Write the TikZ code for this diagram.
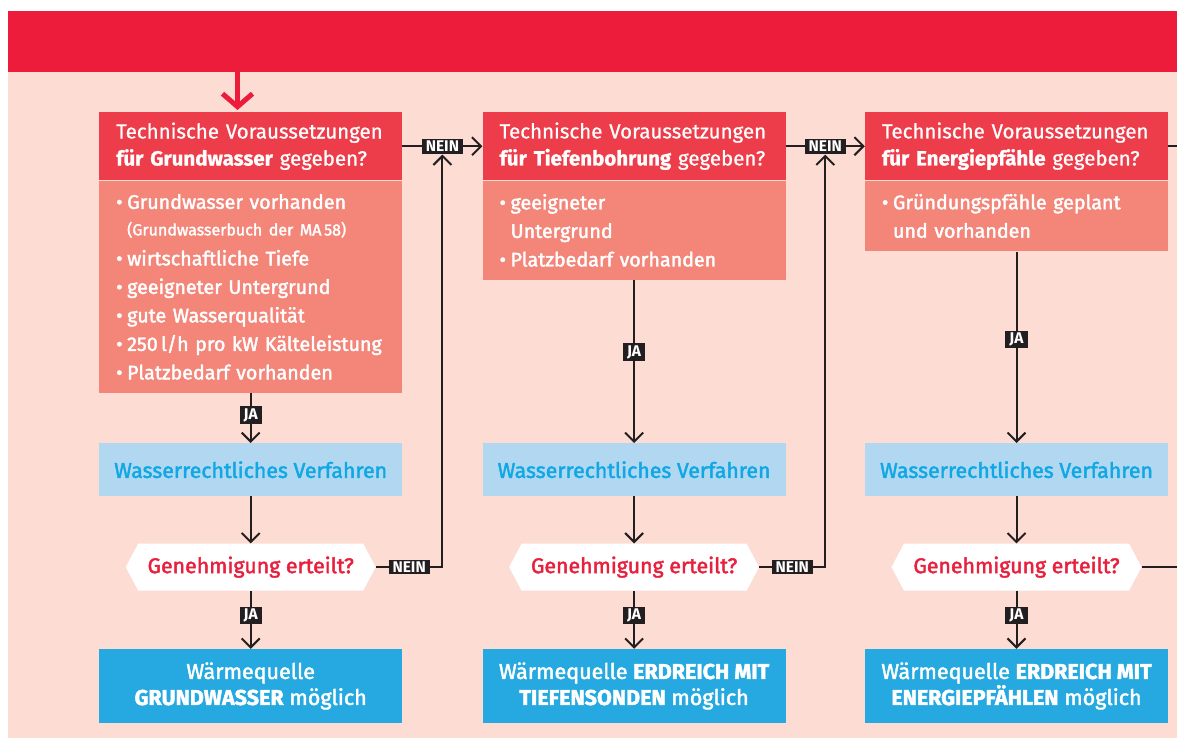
\documentclass[tikz,border=0pt]{standalone}
\usepackage{fontspec}
\setmainfont{Fira Sans}
\newfontfamily\medfont[FakeBold=2]{Fira Sans}
\newfontfamily\hdrfont[FakeBold=0.8]{Fira Sans}
\usetikzlibrary{positioning}
\usetikzlibrary{shapes.symbols}
\usetikzlibrary{arrows.meta}

\definecolor{bannerred}{RGB}{237,28,58}
\definecolor{bgpink}{RGB}{252,220,211}
\definecolor{hdrred}{RGB}{238,61,74}
\definecolor{bodysalmon}{RGB}{243,133,121}
\definecolor{lightblue}{RGB}{178,216,241}
\definecolor{textblue}{RGB}{16,168,228}
\definecolor{resblue}{RGB}{37,169,224}
\definecolor{hexred}{RGB}{232,32,62}
\definecolor{lineblack}{RGB}{35,31,32}

\newcommand{\bul}[1]{\mbox{\makebox[11pt][l]{\textbullet}#1}}
\newcommand{\ind}{\hspace*{11pt}}

\begin{document}
\begin{tikzpicture}[%
    x=1pt, y=-1pt,
    hdr/.style={rectangle, anchor=north west, fill=hdrred, text=white, align=left, text width=269pt, inner xsep=17pt, minimum height=68pt, font=\hdrfont\fontsize{20.5}{27}\selectfont},
    body/.style={rectangle, fill=bodysalmon, text=white, align=left, text width=269pt, inner xsep=17pt, inner ysep=13.5pt, font=\medfont\fontsize{19.7}{28.5}\selectfont},
    wasser/.style={rectangle, fill=lightblue, text=textblue, minimum width=303pt, minimum height=53pt, font=\medfont\fontsize{21.3}{27}\selectfont},
    hexa/.style={signal, signal to=west and east, signal pointer angle=124, fill=white, text=hexred, minimum width=250pt, minimum height=47pt, inner sep=0pt, font=\medfont\fontsize{21.3}{27}\selectfont},
    result/.style={rectangle, fill=resblue, text=white, align=center, minimum width=303pt, minimum height=74pt, font=\medfont\fontsize{21.5}{26}\selectfont},
    tag/.style={rectangle, fill=lineblack, text=white, inner xsep=4pt, inner ysep=2pt, font=\bfseries\fontsize{15.5}{15.5}\selectfont},
    arr/.style={draw=lineblack, line width=2pt, line join=miter, -{Straight Barb[length=9pt,width=18pt]}},
    line/.style={draw=lineblack, line width=2pt}
]
\useasboundingbox (0,0) rectangle (1177,738);

% Background
\fill[bgpink] (8,72) rectangle (1177,738);
\node[rectangle, anchor=north west, fill=bannerred, minimum width=1169pt, minimum height=61pt, inner sep=0pt] (banner) at (8,11) {};
\coordinate (entry) at (237.5,72);
\coordinate (rightedge) at (1177,0);

% Header nodes
\node[hdr]      (hdrgw) at (99,112)         {Technische Voraussetzungen\\\textbf{für Grundwasser} gegeben?};
\node[hdr]      (hdrtb) [right=80pt of hdrgw] {Technische Voraussetzungen\\\textbf{für Tiefenbohrung} gegeben?};
\node[hdr]      (hdrep) [right=79pt of hdrtb] {Technische Voraussetzungen\\\textbf{für Energiepfähle} gegeben?};

% Condition lists
\node[body]     (bodygw) [below=0pt of hdrgw] {\bul{Grundwasser vorhanden}\\[-2pt]
    \ind{\fontsize{16}{25}\selectfont(Grundwasserbuch der MA\,58)}\\[1.5pt]
    \bul{wirtschaftliche Tiefe}\\
    \bul{geeigneter Untergrund}\\
    \bul{gute Wasserqualität}\\
    \bul{250\,l/h pro kW Kälteleistung}\\
    \bul{Platzbedarf vorhanden}};
\node[body]     (bodytb) [below=0pt of hdrtb] {\bul{geeigneter}\\\ind Untergrund\\\bul{Platzbedarf vorhanden}};
\node[body]     (bodyep) [below=0pt of hdrep] {\bul{Gründungspfähle geplant}\\\ind und vorhanden};

% Procedure nodes
\node[wasser]   (wagw) at (99,443) [anchor=north west] {Wasserrechtliches Verfahren};
\node[wasser]   (watb) [right=80pt of wagw] {Wasserrechtliches Verfahren};
\node[wasser]   (waep) [right=79pt of watb] {Wasserrechtliches Verfahren};

% Permission nodes
\node[hexa]     (hexgw) [below=47pt of wagw] {Genehmigung erteilt?};
\node[hexa]     (hextb) [below=47pt of watb] {Genehmigung erteilt?};
\node[hexa]     (hexep) [below=47pt of waep] {Genehmigung erteilt?};

% Result nodes
\node[result]   (resgw) [below=58pt of hexgw] {Wärmequelle\\\textbf{GRUNDWASSER} möglich};
\node[result]   (restb) [below=58pt of hextb] {Wärmequelle \textbf{ERDREICH MIT}\\\textbf{TIEFENSONDEN} möglich};
\node[result]   (resep) [below=58pt of hexep] {Wärmequelle \textbf{ERDREICH MIT}\\\textbf{ENERGIEPFÄHLEN} möglich};

% Entry arrow
\draw[draw=bannerred, line width=5pt, shorten >=2pt, -{Straight Barb[length=13pt,width=30pt]}] (entry) -- (entry |- hdrgw.north);

% NEIN lines
\draw[arr] (hdrgw.east) -- node[tag] (neingw) {NEIN} (hdrtb.west);
\draw[arr] (hdrtb.east) -- node[tag] (neintb) {NEIN} (hdrep.west);
\draw[line] (hdrep.east) -- (hdrep.east -| rightedge);
\draw[arr] (hexgw.east) -- node[tag] {NEIN} (hexgw.east -| neingw) -- (neingw.south);
\draw[arr] (hextb.east) -- node[tag] {NEIN} (hextb.east -| neintb) -- (neintb.south);
\draw[line] (hexep.east) -- (hexep.east -| rightedge);

% JA lines
\draw[arr] (bodygw.south) -- node[tag, pos=0.44] {JA} (wagw.north);
\draw[arr] (bodytb.south) -- node[tag, pos=0.44] {JA} (watb.north);
\draw[arr] (bodyep.south) -- node[tag, pos=0.46] {JA} (waep.north);
\draw[arr] (wagw.south) -- (hexgw.north);
\draw[arr] (watb.south) -- (hextb.north);
\draw[arr] (waep.south) -- (hexep.north);
\draw[arr] (hexgw.south) -- node[tag, pos=0.43] {JA} (resgw.north);
\draw[arr] (hextb.south) -- node[tag, pos=0.43] {JA} (restb.north);
\draw[arr] (hexep.south) -- node[tag, pos=0.43] {JA} (resep.north);

\end{tikzpicture}
\end{document}
